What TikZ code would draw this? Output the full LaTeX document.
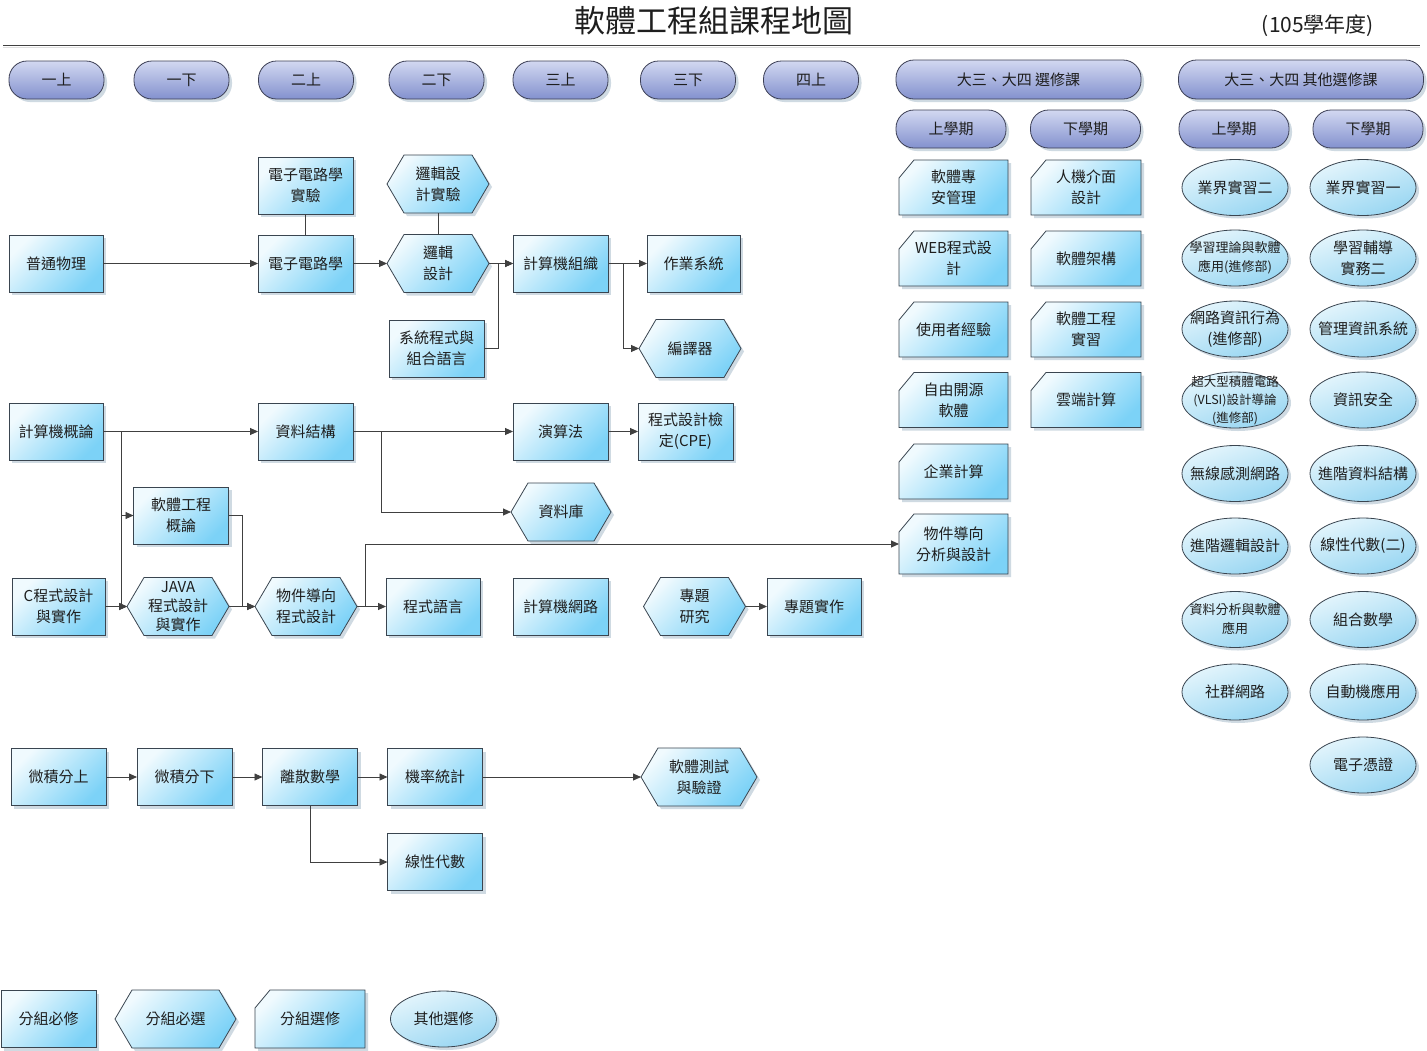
\documentclass[tikz,border=0pt]{standalone}
\usepackage{fontspec}
\setmainfont{Noto Sans CJK TC}
\usetikzlibrary{shapes.geometric,arrows.meta,shadows,calc}
\definecolor{boxA}{HTML}{F0FAFE}
\definecolor{boxB}{HTML}{7CD2F7}
\definecolor{bord}{HTML}{3A4550}
\definecolor{shad}{HTML}{A9BCCB}
\definecolor{pillA}{HTML}{D2D8F1}
\definecolor{pillB}{HTML}{8391CE}
\definecolor{pillbord}{HTML}{3C3F55}
\definecolor{ovA}{HTML}{E4F5FC}
\definecolor{ovB}{HTML}{98D6F2}
\definecolor{lin}{HTML}{404040}
\definecolor{txtc}{HTML}{1E1E1E}
\tikzset{
 txt/.style={inner sep=0pt, outer sep=0pt, align=center, text=txtc, font=\fontsize{15}{21}\selectfont},
 shd/.style={drop shadow={shadow xshift=3pt, shadow yshift=-3pt, opacity=0.55, fill=shad}},
 boxfill/.style={draw=bord, line width=0.8pt, top color=boxA, bottom color=boxB, shading angle=45, shd},
 box/.style={txt, boxfill, minimum width=95, minimum height=57},
 pill/.style={txt, draw=pillbord, line width=0.8pt, rounded corners=18pt, top color=pillA, bottom color=pillB, shd, minimum width=95, minimum height=38},
 oval/.style={ellipse, inner sep=0pt, draw=bord, line width=0.8pt, top color=ovA, bottom color=ovB, shading angle=20, shd, minimum width=106, minimum height=56},
 arr/.style={draw=lin, line width=0.9pt, -{Triangle[length=8pt,width=7pt]}},
 con/.style={draw=lin, line width=0.9pt},
}
\newcommand\hexbox[7][]{%
  \path[boxfill] ({#3-#5},#4) -- ({#3-#5+17},{#4-#6}) -- ({#3+#5-17},{#4-#6}) -- ({#3+#5},#4) -- ({#3+#5-17},{#4+#6}) -- ({#3-#5+17},{#4+#6}) -- cycle;
  \node[txt,minimum width={2*#5},minimum height={2*#6},#1] (#2) at (#3,#4) {#7};
}
\newcommand\cutbox[7][]{%
  \path[boxfill] ({#3-#5},{#4+#6}) -- ({#3-#5},{#4-#6+18}) -- ({#3-#5+15},{#4-#6}) -- ({#3+#5},{#4-#6}) -- ({#3+#5},{#4+#6}) -- cycle;
  \node[txt,minimum width={2*#5},minimum height={2*#6},#1] (#2) at (#3,#4) {#7};
}
\newcommand\ovalnode[5][]{%
  \node[oval] (#2) at (#3,#4) {};
  \node[txt,#1] (#2t) at (#2) {#5};
}
\begin{document}
\begin{tikzpicture}[x=1pt,y=-1pt]
\useasboundingbox (0,0) rectangle (1427,1050);
\fill[white] (0,0) rectangle (1427,1050);
% title
\node[txt, font=\fontsize{31}{31}\selectfont] (title) at (714,21) {軟體工程組課程地圖};
\node[txt, font=\fontsize{21}{21}\selectfont] (year) at (1318,26) {(105學年度)};
\draw[line width=0.9pt, draw=lin] (3,45) -- (1420,45);
\draw[line width=1pt, draw=gray!25] (3,47.5) -- (1420,47.5);
% headers
\node[pill] (h1) at (56.5,80) {一上};
\node[pill] (h2) at (181.5,80) {一下};
\node[pill] (h3) at (306,80) {二上};
\node[pill] (h4) at (436.5,80) {二下};
\node[pill] (h5) at (560.5,80) {三上};
\node[pill] (h6) at (688,80) {三下};
\node[pill] (h7) at (811,80) {四上};
\node[pill, minimum width=245, minimum height=39] (h8) at (1018.5,79.5) {大三、大四 選修課};
\node[pill, minimum width=245, minimum height=39] (h9) at (1301,79.5) {大三、大四 其他選修課};
\node[pill, minimum width=110] (s1) at (951,129) {上學期};
\node[pill, minimum width=110] (s2) at (1085.5,129) {下學期};
\node[pill, minimum width=110] (s3) at (1234,129) {上學期};
\node[pill, minimum width=110] (s4) at (1368,129) {下學期};
% rows 1-2
\node[box] (eelab) at (305.5,185.5) {電子電路學\\實驗};
\hexbox{logiclab}{438}{184}{51}{29}{邏輯設\\計實驗}
\node[box, minimum width=94] (phys) at (56,263.5) {普通物理};
\node[box] (ee) at (305.5,263.5) {電子電路學};
\hexbox{logic}{438}{263.5}{51}{29}{邏輯\\設計}
\node[box] (org) at (560.5,263.5) {計算機組織};
\node[box, minimum width=93] (os) at (693.5,263.5) {作業系統};
\node[box] (sysprog) at (436.5,348.5) {系統程式與\\組合語言};
\hexbox{compiler}{690}{348.5}{51}{29}{編譯器}
% row 3
\node[box, minimum width=94] (intro) at (56,431.5) {計算機概論};
\node[box] (ds) at (305.5,431.5) {資料結構};
\node[box] (algo) at (560.5,431.5) {演算法};
\node[box] (cpe) at (685.5,431.5) {程式設計檢\\定(CPE)};
\hexbox{db}{561}{512}{50}{29}{資料庫}
\node[box] (se) at (181,515.5) {軟體工程\\概論};
% row 4
\node[box, minimum width=93] (cprog) at (58.5,606.5) {C程式設計\\與實作};
\hexbox[font=\fontsize{15}{19}\selectfont]{java}{178}{606.5}{51}{29}{JAVA\\程式設計\\與實作}
\hexbox{oop}{306}{606.5}{51}{29}{物件導向\\程式設計}
\node[box, minimum width=94] (pl) at (433,606.5) {程式語言};
\node[box] (net) at (560.5,606.5) {計算機網路};
\hexbox{proj}{694.5}{606.5}{51}{29}{專題\\研究}
\node[box, minimum width=94] (projimpl) at (814,606.5) {專題實作};
% row 5
\node[box] (calc1) at (58.5,777) {微積分上};
\node[box] (calc2) at (184.5,777) {微積分下};
\node[box] (disc) at (310,777) {離散數學};
\node[box] (prob) at (435,777) {機率統計};
\hexbox{test}{699}{777}{58}{29}{軟體測試\\與驗證}
\node[box] (linalg) at (435,862) {線性代數};
% legend
\node[box] (lg1) at (48.5,1019) {分組必修};
\hexbox{lg2}{175.5}{1019}{60.5}{29}{分組必選}
\cutbox{lg3}{310}{1019}{55}{29}{分組選修}
\ovalnode{lg4}{443.5}{1019}{其他選修}
% electives
\cutbox{e1}{953.5}{187.5}{54.5}{27.5}{軟體專\\安管理}
\cutbox{e2}{953.5}{258.5}{54.5}{27.5}{WEB程式設\\計}
\cutbox{e3}{953.5}{329.5}{54.5}{27.5}{使用者經驗}
\cutbox{e4}{953.5}{400}{54.5}{27.5}{自由開源\\軟體}
\cutbox{e5}{953.5}{471.5}{54.5}{27.5}{企業計算}
\cutbox{e6}{953.5}{544}{54.5}{30}{物件導向\\分析與設計}
\cutbox{f1}{1086}{187.5}{55}{27.5}{人機介面\\設計}
\cutbox{f2}{1086}{258.5}{55}{27.5}{軟體架構}
\cutbox{f3}{1086}{329.5}{55}{27.5}{軟體工程\\實習}
\cutbox{f4}{1086}{400}{55}{27.5}{雲端計算}
% other electives
\ovalnode{o1}{1235}{187.5}{業界實習二}
\ovalnode[font=\fontsize{13}{19}\selectfont]{o2}{1235}{258}{學習理論與軟體\\應用(進修部)}
\ovalnode{o3}{1235}{329}{網路資訊行為\\(進修部)}
\ovalnode[font=\fontsize{12.5}{18}\selectfont]{o4}{1235}{400}{超大型積體電路\\(VLSI)設計導論\\(進修部)}
\ovalnode{o5}{1235}{473.5}{無線感測網路}
\ovalnode{o6}{1235}{546}{進階邏輯設計}
\ovalnode[font=\fontsize{13}{19}\selectfont]{o7}{1235}{619.5}{資料分析與軟體\\應用}
\ovalnode{o8}{1235}{692}{社群網路}
\ovalnode{p1}{1363}{187.5}{業界實習一}
\ovalnode{p2}{1363}{258}{學習輔導\\實務二}
\ovalnode{p3}{1363}{329}{管理資訊系統}
\ovalnode{p4}{1363}{400}{資訊安全}
\ovalnode{p5}{1363}{473.5}{進階資料結構}
\ovalnode{p6}{1363}{546}{線性代數(二)}
\ovalnode{p7}{1363}{619.5}{組合數學}
\ovalnode{p8}{1363}{692}{自動機應用}
\ovalnode{p9}{1363}{765}{電子憑證}
% connectors
\draw[con] (eelab) -- (ee);
\draw[con] (logiclab) -- (logic);
\draw[arr] (phys) -- (ee);
\draw[arr] (ee) -- (logic);
\draw[arr] (logic) -- (org);
\draw[arr] (sysprog.east) -- ++(14,0) |- (org.west);
\draw[arr] (org) -- (os);
\draw[arr] (org.east) -- ++(15,0) |- (compiler.west);
\draw[arr] (intro) -- (ds);
\draw[arr] (intro.east) -- ++(18,0) |- (se.west);
\draw[arr] (intro.east) -- ++(18,0) |- (java.west);
\draw[arr] (cprog) -- (java);
\draw[arr] (se.east) -- ++(14,0) |- (oop.west);
\draw[arr] (java) -- (oop);
\draw[arr] (oop) -- (pl);
\draw[arr] (oop.east) -- ++(8,0) |- (e6.west);
\draw[arr] (ds) -- (algo);
\draw[arr] (ds.east) -- ++(28,0) |- (db.west);
\draw[arr] (algo) -- (cpe);
\draw[arr] (proj) -- (projimpl);
\draw[arr] (calc1) -- (calc2);
\draw[arr] (calc2) -- (disc);
\draw[arr] (disc) -- (prob);
\draw[arr] (prob) -- (test);
\draw[arr] (disc.south) |- (linalg.west);
\end{tikzpicture}
\end{document}
